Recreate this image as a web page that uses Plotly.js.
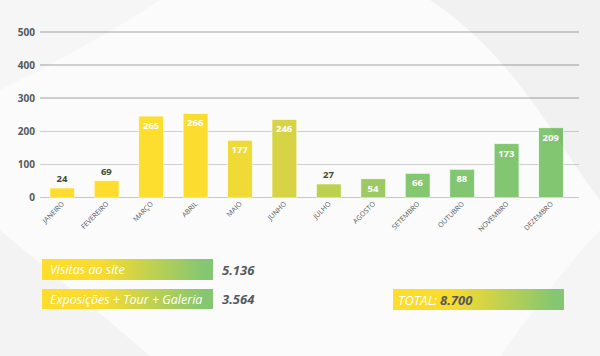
<!DOCTYPE html>
<html><head><meta charset="utf-8">
<script src="https://cdn.plot.ly/plotly-3.0.1.min.js"></script>
<style>html,body{margin:0;padding:0;}#chart{width:600px;height:356px;}</style>
</head><body><div id="chart"></div>
<script>
// ---- data ----
const months = ['JANEIRO','FEVEREIRO','MARÇO','ABRIL','MAIO','JUNHO','JULHO','AGOSTO','SETEMBRO','OUTUBRO','NOVEMBRO','DEZEMBRO'];
const barHeights = [29, 51, 246, 254, 173, 236, 41, 57, 73, 85, 163, 211];   // bar heights as drawn
const barLabels = ['24','69','265','266','177','246','27','54','66','88','173','209']; // printed labels
const barColors = ['#FEDD2E','#FEDD2E','#FDDD2E','#FBDC2F','#F0DA36','#D6D444','#BDD04F','#9CCA62','#85C670','#82C672','#82C672','#82C672'];
const labelPos = ['outside','outside','inside','inside','inside','inside','outside','inside','inside','inside','inside','inside'];
const yTicks = [0, 100, 200, 300, 400, 500];
const summaryLabels = ['Visitas ao site', 'Exposições + Tour + Galeria'];
const summaryValues = ['5.136', '3.564'];
const totalLabel = 'TOTAL:';
const totalValue = '8.700';

const gradScale = [[0,'#FEDD2C'],[0.35,'#F8DB30'],[0.95,'#84C672'],[1,'#84C672']];

function box(x0, x1, y0, y1) {
  return {
    type: 'scatter', xaxis: 'x2', yaxis: 'y2', mode: 'lines',
    x: [x0, x1, x1, x0, x0], y: [y0, y0, y1, y1, y0],
    fill: 'toself', line: {width: 0, color: 'rgba(0,0,0,0)'},
    fillgradient: {type: 'horizontal', colorscale: gradScale},
    hoverinfo: 'skip', showlegend: false
  };
}

const bars = {
  type: 'bar', x: months, y: barHeights,
  text: barLabels, texttemplate: '%{text}',
  textposition: labelPos, insidetextanchor: 'end', constraintext: 'none', cliponaxis: false, textangle: 0,
  textfont: {family: 'Open Sans, sans-serif', size: 9.5, weight: 'bold', color: labelPos.map(p => p === 'inside' ? '#ffffff' : '#3b4a30')},
  marker: {color: barColors, line: {color: 'rgba(255,255,255,0.7)', width: 1}},
  hoverinfo: 'skip', showlegend: false
};

const data = [bars,
  box(42, 213, 259, 280),
  box(42, 213, 289, 309),
  box(393, 564, 289, 310)
];

const txtFont = {family: 'Open Sans, sans-serif', size: 12.5, color: '#ffffff'};
const valFont = {family: 'Open Sans, sans-serif', size: 13, color: '#555a5e', weight: 'bold', style: 'italic'};

const annotations = [
  {xref:'x2', yref:'y2', x: 48, y: 269.5, text: '<i>' + summaryLabels[0] + '</i>', showarrow:false, xanchor:'left', yanchor:'middle', font: txtFont},
  {xref:'x2', yref:'y2', x: 48, y: 299, text: '<i>' + summaryLabels[1] + '</i>', showarrow:false, xanchor:'left', yanchor:'middle', font: txtFont},
  {xref:'x2', yref:'y2', x: 220, y: 269.5, text: '<b><i>' + summaryValues[0] + '</i></b>', showarrow:false, xanchor:'left', yanchor:'middle', font: valFont},
  {xref:'x2', yref:'y2', x: 220, y: 299, text: '<b><i>' + summaryValues[1] + '</i></b>', showarrow:false, xanchor:'left', yanchor:'middle', font: valFont},
  {xref:'x2', yref:'y2', x: 396, y: 299.5, text: '<i>' + totalLabel + '</i>', showarrow:false, xanchor:'left', yanchor:'middle', font: {family:'Open Sans, sans-serif', size: 13, color:'#ffffff'}},
  {xref:'x2', yref:'y2', x: 438, y: 299.5, text: '<b><i>' + totalValue + '</i></b>', showarrow:false, xanchor:'left', yanchor:'middle', font: valFont}
];

// decorative background swooshes
const shapes = [
  {type:'path', xref:'x2', yref:'y2', layer:'below', line:{width:0}, fillcolor:'rgba(0,0,0,0.04)',
   path:'M 430 0 C 520 60, 560 150, 600 200 L 600 0 Z'},
  {type:'path', xref:'x2', yref:'y2', layer:'below', line:{width:0}, fillcolor:'rgba(0,0,0,0.03)',
   path:'M 0 230 C 60 280, 120 330, 150 356 L 0 356 Z'},
  {type:'path', xref:'x2', yref:'y2', layer:'below', line:{width:0}, fillcolor:'rgba(0,0,0,0.025)',
   path:'M 500 356 C 540 300, 580 250, 600 230 L 600 356 Z'},
  {type:'path', xref:'x2', yref:'y2', layer:'below', line:{width:0}, fillcolor:'rgba(0,0,0,0.02)',
   path:'M 0 0 L 160 0 C 100 40, 40 70, 0 90 Z'}
];

const layout = {
  width: 600, height: 356,
  margin: {l: 0, r: 0, t: 0, b: 0},
  paper_bgcolor: '#fbfbfb', plot_bgcolor: 'rgba(0,0,0,0)',
  bargap: 0.44,
  xaxis: {domain: [40/600, 579/600], range: [-0.5, 11.63], tickangle: -45, showgrid: false, zeroline: false,
          showline: false, ticks: '', fixedrange: true,
          tickfont: {family: 'Open Sans, sans-serif', size: 7, color: '#55595d'}},
  yaxis: {domain: [(356-197.5)/356, (356-25.4)/356], range: [0, 520], tickvals: yTicks, ticktext: yTicks.map(String),
          showgrid: true, gridcolor: '#cfcfcf', gridwidth: 1.5, zeroline: true, zerolinecolor: '#c8c8c8', zerolinewidth: 1.5,
          showline: false, ticks: '', ticklabelstandoff: 4, fixedrange: true,
          tickfont: {family: 'Open Sans, sans-serif', size: 10, color: '#555a5e', weight: 'bold'}},
  xaxis2: {domain: [0, 1], range: [0, 600], anchor: 'y2', visible: false, fixedrange: true},
  yaxis2: {domain: [0, 1], range: [356, 0], anchor: 'x2', visible: false, fixedrange: true},
  annotations: annotations,
  shapes: shapes,
  font: {family: 'Open Sans, sans-serif'}
};

Plotly.newPlot('chart', data, layout, {displayModeBar: false, staticPlot: true});
</script>
</body></html>
